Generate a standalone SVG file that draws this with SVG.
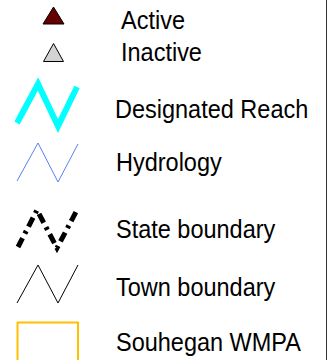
<svg xmlns="http://www.w3.org/2000/svg" width="330" height="360" viewBox="0 0 330 360">
<style>
.lbl{font-family:"Liberation Sans",Arial,sans-serif;font-size:23.5px;fill:#000}
.zz{fill:none;stroke-linejoin:miter}
</style>
<rect width="330" height="360" fill="#fff"/>
<line x1="326.5" y1="0" x2="326.5" y2="360" stroke="#333" stroke-width="1"/>
<g id="active">
<polygon points="53.5,7 43,24 64,24" fill="#660000" stroke="#000" stroke-width="1"/>
<text class="lbl" x="121" y="29" transform="translate(0,29) scale(1,1.06) translate(0,-29)">Active</text>
</g>
<g id="inactive">
<polygon points="53.5,43.5 43.5,61.5 63.5,61.5" fill="#d3d3d3" stroke="#000" stroke-width="1"/>
<text class="lbl" x="121" y="61.5" transform="translate(0,61.5) scale(1,1.06) translate(0,-61.5)">Inactive</text>
</g>
<g id="designated-reach">
<polyline class="zz" points="17,123 38,84 58,126 77,87" stroke="#00ffff" stroke-width="6"/>
<text class="lbl" x="115" y="118" transform="translate(0,118) scale(1,1.06) translate(0,-118)">Designated Reach</text>
</g>
<g id="hydrology">
<polyline class="zz" points="17,181 38,143 58,182 78,144" stroke="#5b80f0" stroke-width="1"/>
<text class="lbl" x="116" y="171.5" transform="translate(0,171.5) scale(1,1.06) translate(0,-171.5)">Hydrology</text>
</g>
<g id="state-boundary">
<polyline class="zz" points="18,247 37,210 57,248 77,210" stroke="#000" stroke-width="5" stroke-dasharray="10 5 3 5"/>
<text class="lbl" x="116" y="238.5" transform="translate(0,238.5) scale(1,1.06) translate(0,-238.5)">State boundary</text>
</g>
<g id="town-boundary">
<polyline class="zz" points="17,303 38,265 58,303 78,265" stroke="#000" stroke-width="1"/>
<text class="lbl" x="116" y="296" transform="translate(0,296) scale(1,1.06) translate(0,-296)">Town boundary</text>
</g>
<g id="souhegan-wmpa">
<rect x="17.5" y="322.5" width="60.5" height="50" fill="none" stroke="#ffc000" stroke-width="2"/>
<text class="lbl" x="116" y="351.5" transform="translate(0,351.5) scale(1,1.06) translate(0,-351.5)">Souhegan WMPA</text>
</g>
</svg>
